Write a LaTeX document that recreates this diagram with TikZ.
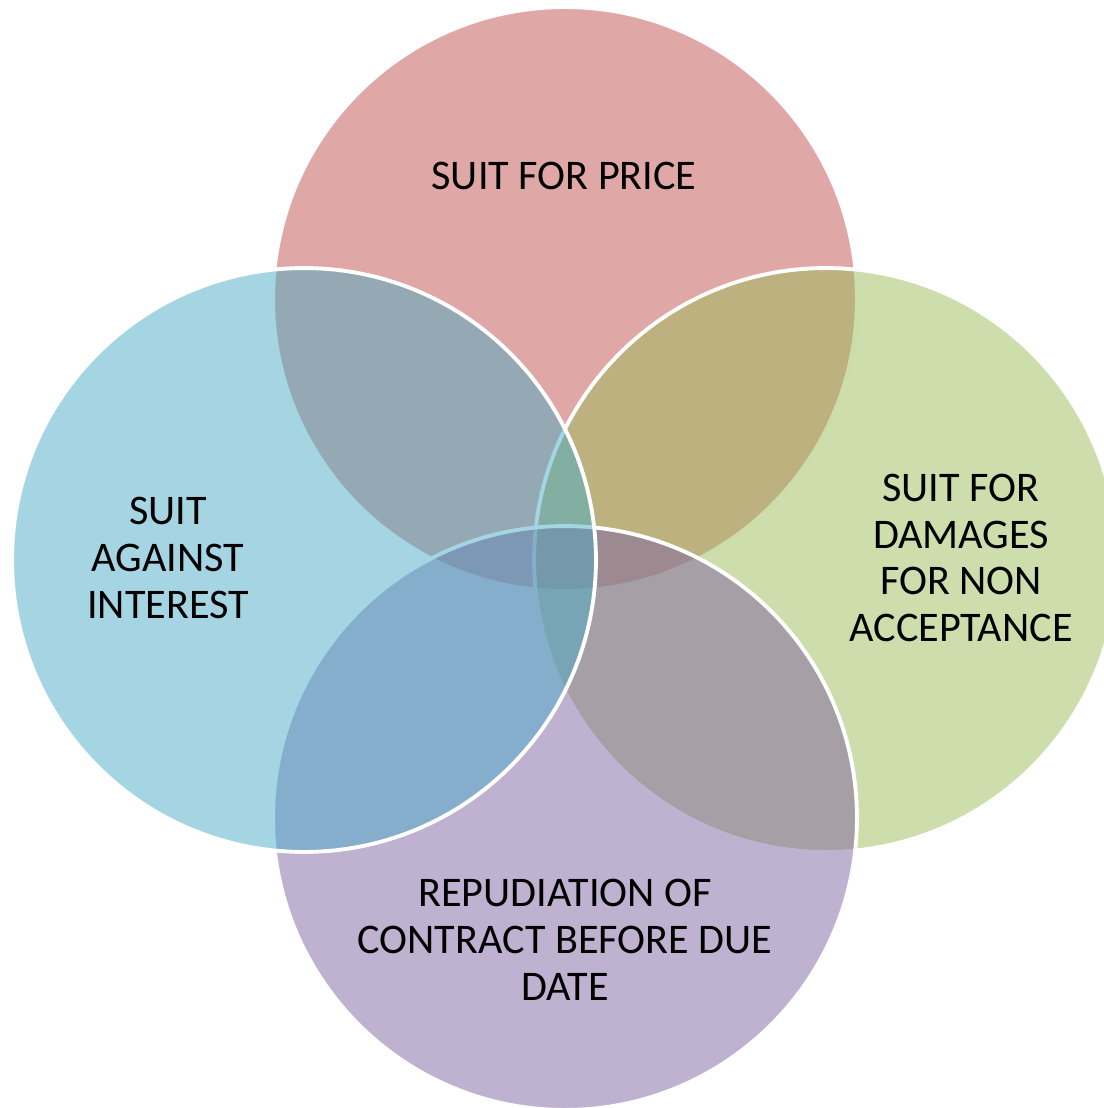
\documentclass[tikz,border=0pt]{standalone}
\usepackage{fontspec}
\setmainfont{Carlito}
\usepackage{tikz}

\definecolor{priceRed}{RGB}{192,80,77}
\definecolor{interestBlue}{RGB}{75,172,198}
\definecolor{damageGreen}{RGB}{155,187,89}
\definecolor{repudPurple}{RGB}{128,100,162}

\begin{document}
\begin{tikzpicture}[x=0.02cm, y=-0.02cm,
        venn/.style = {circle, draw=white, line width=2.2pt, fill opacity=0.5, draw opacity=1, minimum size=11.68cm, inner sep=0pt},
        label/.style = {align=center, font=\fontsize{24}{26.6}\selectfont, text=black}]
    \useasboundingbox (0,0) rectangle (1103,1108);
    % circles, back to front
    \node[venn, fill=priceRed] (price) at (565,299) {};
    \node[venn, fill=damageGreen] (damages) at (826,560) {};
    \node[venn, fill=repudPurple] (repud) at (565,818) {};
    \node[venn, fill=interestBlue] (interest) at (304,560) {};
    % texts
    \node[label] (priceText) at (564,176) {SUIT FOR PRICE};
    \node[label] (interestText) at (168,558) {SUIT\\AGAINST\\INTEREST};
    \node[label] (damagesText) at (961,558) {SUIT FOR\\DAMAGES\\FOR NON\\ACCEPTANCE};
    \node[label] (repudText) at (565,940) {REPUDIATION OF\\CONTRACT BEFORE DUE\\DATE};
\end{tikzpicture}
\end{document}
